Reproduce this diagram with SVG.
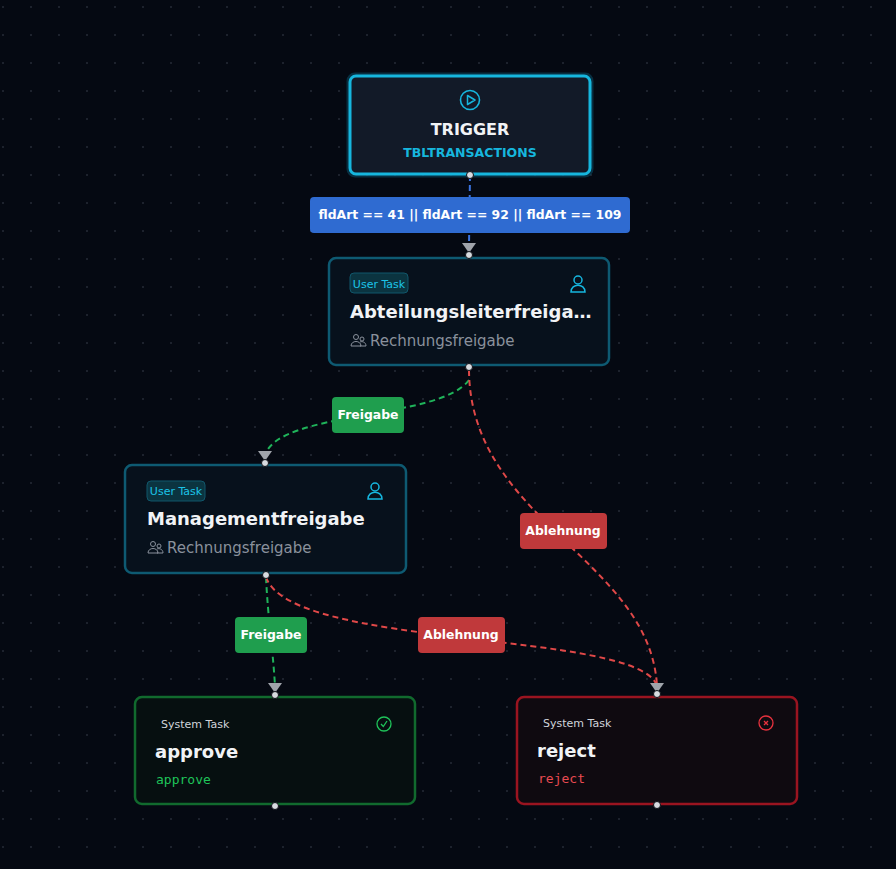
<svg xmlns="http://www.w3.org/2000/svg" width="896" height="869" viewBox="0 0 896 869">
<defs>
<pattern id="grid" width="28" height="28" patternUnits="userSpaceOnUse" x="2" y="6"><circle cx="1" cy="1" r="0.8" fill="#3a4250"/></pattern>
<style>
text{font-family:"DejaVu Sans","Noto Sans",sans-serif}
text.mono{font-family:"DejaVu Sans Mono","Liberation Mono",monospace}
.h{fill:#d8dbe0;stroke:#0b0e14;stroke-width:1}
.title{fill:#f1f3f6;font-weight:bold;font-size:18px}
.sub{fill:#8a919c;font-size:15px}
.lbl{fill:#fff;font-weight:bold;font-size:12.4px;text-anchor:middle}
.ed{fill:none;stroke-width:2;stroke-dasharray:6 4}
</style>
</defs>
<rect width="896" height="869" fill="#050912"/>
<rect width="896" height="869" fill="url(#grid)"/>
<g id="connectors">
<path class="ed" stroke="#3b74e0" d="M470,175 L469,247"/>
<path class="ed" stroke="#1fb35a" d="M469,380 C440,420 280,410 265,455"/>
<path class="ed" stroke="#e04848" d="M469,370 C470,520 650,560 657,686"/>
<path class="ed" stroke="#1fb35a" d="M266,577 C268,620 273,650 275,686"/>
<path class="ed" stroke="#e04848" d="M266,577 C290,650 640,630 657,686"/>
<path d="M462,243 L476,243 L469,253 Z" fill="#a0a4ab"/>
<path d="M258,451 L272,451 L265,461 Z" fill="#a0a4ab"/>
<path d="M268,683 L282,683 L275,693 Z" fill="#a0a4ab"/>
<path d="M650,683 L664,683 L657,693 Z" fill="#a0a4ab"/>
<rect x="310" y="197" width="320" height="36" rx="4" fill="#2f6bd1"/>
<text class="lbl" x="470" y="219">fldArt == 41 || fldArt == 92 || fldArt == 109</text>
<rect x="332" y="397" width="72" height="36" rx="4" fill="#1f9e4e"/>
<text class="lbl" x="368" y="419">Freigabe</text>
<rect x="520" y="513" width="87" height="36" rx="4" fill="#c0393b"/>
<text class="lbl" x="563" y="535">Ablehnung</text>
<rect x="235" y="617" width="72" height="36" rx="4" fill="#1f9e4e"/>
<text class="lbl" x="271" y="639">Freigabe</text>
<rect x="418" y="617" width="87" height="36" rx="4" fill="#c0393b"/>
<text class="lbl" x="461" y="639">Ablehnung</text>
</g>
<g id="trigger">
<rect x="348" y="74" width="244" height="102" rx="7" fill="none" stroke="#0a4a60" stroke-width="3" opacity="0.6"/>
<rect x="350" y="76" width="240" height="98" rx="6" fill="#121a28" stroke="#16b6de" stroke-width="3"/>
<circle cx="470" cy="100" r="9.5" fill="none" stroke="#16b6de" stroke-width="1.6"/>
<path d="M467.5,95.5 L475,100 L467.5,104.5 Z" fill="none" stroke="#16b6de" stroke-width="1.5" stroke-linejoin="round"/>
<text x="470" y="135" text-anchor="middle" fill="#f1f3f6" font-weight="bold" font-size="16">TRIGGER</text>
<text x="470" y="157" text-anchor="middle" fill="#16b6de" font-weight="bold" font-size="12.5">TBLTRANSACTIONS</text>
<circle class="h" cx="470" cy="175" r="3.5"/>
</g>
<g id="abteilung">
<rect x="329" y="258" width="280" height="107" rx="7" fill="#07111c" stroke="#0e5a72" stroke-width="2.5"/>
<rect x="350" y="273" width="58" height="20" rx="4" fill="#0b3440" stroke="#11566a"/>
<text x="379" y="288" text-anchor="middle" fill="#1cc4e8" font-size="11">User Task</text>
<circle cx="578" cy="280" r="4" fill="none" stroke="#16b6de" stroke-width="1.5"/>
<path d="M571,292 C571,283 585,283 585,292 Z" fill="none" stroke="#16b6de" stroke-width="1.5"/>
<text class="title" x="350" y="318">Abteilungsleiterfreiga…</text>
<circle cx="356" cy="337" r="2.5" fill="none" stroke="#8a919c"/><circle cx="362" cy="339" r="2" fill="none" stroke="#8a919c"/>
<path d="M351,346 C351,340 361,340 361,346 Z M360,346 L366,346 C366,342 362,341 360,342" fill="none" stroke="#8a919c"/>
<text class="sub" x="370" y="346">Rechnungsfreigabe</text>
<circle class="h" cx="469" cy="255" r="3.5"/>
<circle class="h" cx="469" cy="367" r="3.5"/>
</g>
<g id="management">
<rect x="125" y="465" width="281" height="108" rx="7" fill="#07111c" stroke="#0e5a72" stroke-width="2.5"/>
<rect x="147" y="481" width="58" height="20" rx="4" fill="#0b3440" stroke="#11566a"/>
<text x="176" y="495" text-anchor="middle" fill="#1cc4e8" font-size="11">User Task</text>
<circle cx="375" cy="487" r="4" fill="none" stroke="#16b6de" stroke-width="1.5"/>
<path d="M368,499 C368,490 382,490 382,499 Z" fill="none" stroke="#16b6de" stroke-width="1.5"/>
<text class="title" x="147" y="525">Managementfreigabe</text>
<circle cx="153" cy="544" r="2.5" fill="none" stroke="#8a919c"/><circle cx="159" cy="546" r="2" fill="none" stroke="#8a919c"/>
<path d="M148,553 C148,547 158,547 158,553 Z M157,553 L163,553 C163,549 159,548 157,549" fill="none" stroke="#8a919c"/>
<text class="sub" x="167" y="553">Rechnungsfreigabe</text>
<circle class="h" cx="265" cy="463" r="3.5"/>
<circle class="h" cx="266" cy="575" r="3.5"/>
</g>
<g id="approve">
<rect x="135" y="697" width="280" height="107" rx="7" fill="#060f10" stroke="#116a2e" stroke-width="2.5"/>
<text x="161" y="728" fill="#d0d4da" font-size="11">System Task</text>
<circle cx="384" cy="724" r="7" fill="none" stroke="#1fc45a" stroke-width="1.3"/>
<path d="M381,724 L383.3,726.5 L387,721" fill="none" stroke="#1fc45a" stroke-width="1.3"/>
<text class="title" x="155" y="758">approve</text>
<text class="mono" x="156" y="784" fill="#1fc45a" font-size="13">approve</text>
<circle class="h" cx="275" cy="695" r="3.5"/>
<circle class="h" cx="275" cy="806" r="3.5"/>
</g>
<g id="reject">
<rect x="517" y="697" width="280" height="107" rx="7" fill="#0f0a10" stroke="#9a1420" stroke-width="2.5"/>
<text x="543" y="727" fill="#d0d4da" font-size="11">System Task</text>
<circle cx="766" cy="723" r="7" fill="none" stroke="#e8323e" stroke-width="1.3"/>
<path d="M764,721 L768,725 M768,721 L764,725" stroke="#e8323e" stroke-width="1.3"/>
<text class="title" x="537" y="757">reject</text>
<text class="mono" x="538" y="783" fill="#e84a52" font-size="13">reject</text>
<circle class="h" cx="657" cy="694" r="3.5"/>
<circle class="h" cx="657" cy="805" r="3.5"/>
</g>
</svg>
